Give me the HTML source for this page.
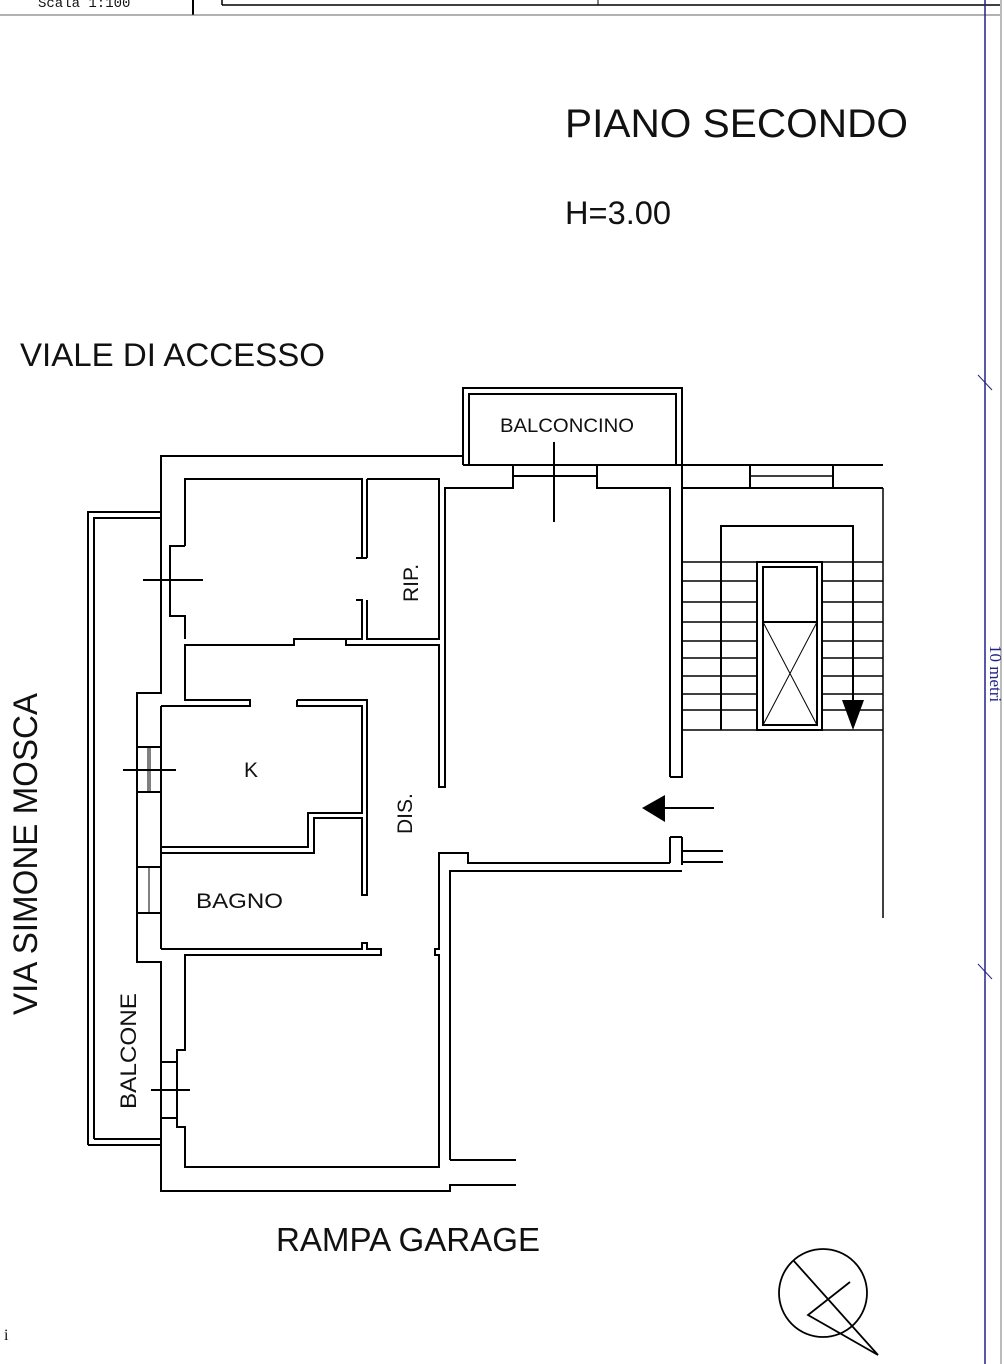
<!DOCTYPE html>
<html><head><meta charset="utf-8"><style>
html,body{margin:0;padding:0;background:#fff;}
svg{display:block;}
text{font-family:"Liberation Sans",sans-serif;fill:#111;}
</style></head><body>
<svg width="1004" height="1364" viewBox="0 0 1004 1364" xmlns="http://www.w3.org/2000/svg">
<text x="38" y="7" style="font-family:'Liberation Mono',monospace" font-size="14">Scala 1:100</text>
<line x1="193" y1="0" x2="193" y2="15" stroke="#000" stroke-width="2"/>
<line x1="222" y1="0" x2="222" y2="5" stroke="#000" stroke-width="1.5"/>
<line x1="222" y1="5" x2="1000" y2="5" stroke="#000" stroke-width="1.5"/>
<line x1="598" y1="0" x2="598" y2="5" stroke="#000" stroke-width="1"/>
<line x1="0" y1="15" x2="1000" y2="15" stroke="#666" stroke-width="1"/>
<line x1="1001" y1="0" x2="1001" y2="1364" stroke="#777" stroke-width="1"/>
<line x1="985" y1="0" x2="985" y2="1364" stroke="#22228a" stroke-width="1.5"/>
<line x1="978" y1="375" x2="992" y2="390" stroke="#22228a" stroke-width="1"/>
<line x1="978" y1="964" x2="992" y2="979" stroke="#22228a" stroke-width="1"/>
<text x="0" y="0" font-size="17" style="fill:#22228a;font-family:'Liberation Serif',serif" transform="translate(990,645) rotate(90)">10 metri</text>

<text x="565" y="137" font-size="40" textLength="343" lengthAdjust="spacingAndGlyphs">PIANO SECONDO</text>
<text x="565" y="224" font-size="32" textLength="106" lengthAdjust="spacingAndGlyphs">H=3.00</text>
<text x="20" y="366" font-size="32" textLength="305" lengthAdjust="spacingAndGlyphs">VIALE DI ACCESSO</text>
<text x="0" y="0" font-size="34" textLength="322" lengthAdjust="spacingAndGlyphs" transform="translate(37,1015) rotate(-90)">VIA SIMONE MOSCA</text>
<text x="276" y="1251" font-size="33" textLength="264" lengthAdjust="spacingAndGlyphs">RAMPA GARAGE</text>
<text x="500" y="432" font-size="19" textLength="134" lengthAdjust="spacingAndGlyphs">BALCONCINO</text>
<text x="196" y="908" font-size="21" textLength="87" lengthAdjust="spacingAndGlyphs">BAGNO</text>
<text x="244" y="777" font-size="21">K</text>
<text x="0" y="0" font-size="21" transform="translate(418,602) rotate(-90)">RIP.</text>
<text x="0" y="0" font-size="21" transform="translate(412,834) rotate(-90)">DIS.</text>
<text x="0" y="0" font-size="22" textLength="116" lengthAdjust="spacingAndGlyphs" transform="translate(136,1109) rotate(-90)">BALCONE</text>
<text x="4" y="1340" font-size="16" style="font-family:'Liberation Serif',serif">i</text>

<g fill="none" stroke="#000" stroke-width="2">
<polyline points="463,456 161,456 161,693 137,693 137,962 161,962 161,1191 450,1191 450,1185 516,1185"/>
<polyline points="88,1145 88,512 161,512"/>
<polyline points="94,1139 94,518 161,518"/>
<polyline points="88,1145 161,1145"/>
<polyline points="94,1139 161,1139"/>
<line x1="161" y1="706" x2="161" y2="949"/>
<polyline points="463,465 463,388 682,388 682,465"/>
<polyline points="469,465 469,394 676,394 676,465"/>
<line x1="463" y1="465" x2="883" y2="465"/>
<polyline points="185,546 185,479 362,479 362,558 356,558"/>
<polyline points="362,600 356,600 362,600 362,639 294,639 294,645 185,645 185,700 250,700 250,706 161,706"/>
<polyline points="185,546 170,546 170,616 185,616 185,639"/>
<polyline points="367,558 362,558"/>
<polyline points="367,479 439,479 439,639 367,639 367,600"/>
<polyline points="367,479 367,558"/>
<polyline points="346,639 346,645 439,645 439,787 445,787 445,645"/>
<line x1="346" y1="639" x2="362" y2="639"/>
<polyline points="297,700 367,700 367,895 362,895 362,818 314,818 314,853 161,853"/>
<polyline points="297,700 297,706 362,706 362,813 308,813 308,847 161,847"/>
<polyline points="161,949 362,949 362,943 367,943 367,949 381,949 381,955 185,955 185,1050 177,1050 177,1127 185,1127 185,1167 439,1167 439,955 435,955 435,949 439,949 439,853 468,853 468,863 670,863"/>
<polyline points="450,1160 450,871 682,871"/>
<line x1="450" y1="1160" x2="516" y2="1160"/>
<polyline points="445,787 445,488 513,488 513,465"/>
<polyline points="597,465 597,488 670,488 670,777"/>
<polyline points="670,837 670,863"/>
<polyline points="682,465 682,777 670,777"/>
<polyline points="682,837 670,837"/>
<polyline points="682,837 682,865"/>
<line x1="513" y1="476" x2="597" y2="476"/>
<line x1="682" y1="851" x2="723" y2="851"/>
<line x1="682" y1="862" x2="723" y2="862"/>
<line x1="750" y1="465" x2="750" y2="488"/><line x1="833" y1="465" x2="833" y2="488"/>
<line x1="750" y1="476" x2="833" y2="476" stroke-width="1.5"/>
<line x1="682" y1="488" x2="883" y2="488"/>
<line x1="883" y1="488" x2="883" y2="918" stroke-width="1.5"/>
<g stroke-width="1.6">
<line x1="682" y1="562" x2="883" y2="562"/><line x1="682" y1="581" x2="883" y2="581"/>
<line x1="682" y1="602" x2="883" y2="602"/><line x1="682" y1="622" x2="883" y2="622"/>
<line x1="682" y1="641" x2="883" y2="641"/><line x1="682" y1="658" x2="883" y2="658"/>
<line x1="682" y1="676" x2="883" y2="676"/><line x1="682" y1="694" x2="883" y2="694"/>
<line x1="682" y1="710" x2="883" y2="710"/><line x1="682" y1="730" x2="883" y2="730"/>
</g>
<polyline points="721,730 721,526 853,526 853,715"/>
<rect x="757" y="562" width="65" height="168" fill="#fff"/>
<rect x="763" y="567" width="54" height="158"/>
<line x1="763" y1="622" x2="817" y2="622"/>
<line x1="763" y1="622" x2="817" y2="725" stroke-width="1"/>
<line x1="817" y1="622" x2="763" y2="725" stroke-width="1"/>
<line x1="143" y1="580" x2="203" y2="580"/><line x1="170" y1="546" x2="170" y2="616" stroke-width="1"/>
<line x1="123" y1="770" x2="176" y2="770"/>
<line x1="137" y1="747" x2="161" y2="747"/><line x1="137" y1="792" x2="161" y2="792"/>
<line x1="148" y1="747" x2="148" y2="792" stroke-width="1"/><line x1="150" y1="747" x2="150" y2="792" stroke-width="1"/>
<line x1="137" y1="867" x2="161" y2="867"/><line x1="137" y1="913" x2="161" y2="913"/>
<line x1="149" y1="867" x2="149" y2="913" stroke-width="1"/>
<line x1="161" y1="1062" x2="177" y2="1062"/><line x1="161" y1="1118" x2="177" y2="1118"/>
<line x1="151" y1="1090" x2="190" y2="1090"/>
<line x1="554" y1="442" x2="554" y2="522"/>
<line x1="665" y1="808" x2="714" y2="808"/>
<circle cx="823" cy="1293" r="44" stroke-width="1.8"/>
<line x1="793" y1="1260" x2="878" y2="1355" stroke-width="1.8"/>
<polyline points="850,1282 808,1315 878,1355" stroke-width="1.8"/>
</g>
<polygon points="642,808 665,795 665,822" fill="#000"/>
<polygon points="842,700 864,700 853,730" fill="#000"/>
</svg>
</body></html>
